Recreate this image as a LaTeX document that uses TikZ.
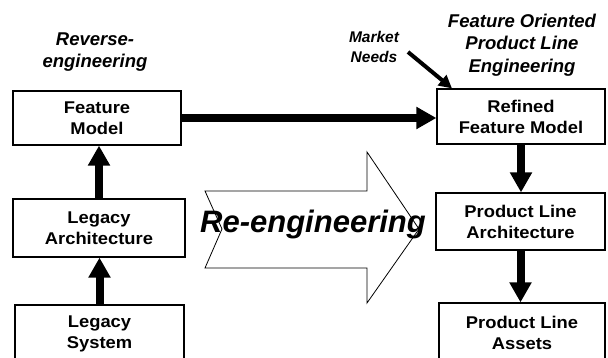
\documentclass[tikz,border=0pt]{standalone}
\usepackage{fontspec}
\setmainfont{Liberation Sans}
\newfontfamily\boxfont{Liberation Sans}[FakeStretch=1.08]
\usetikzlibrary{arrows.meta}
\begin{document}
\begin{tikzpicture}[x=1pt,y=-1pt,
  box/.style={draw, line width=1.2pt, rectangle, align=center, inner sep=0pt,
    font=\boxfont\bfseries\fontsize{17}{21}\selectfont},
  lbl/.style={align=center, inner sep=0pt, font=\bfseries\itshape\fontsize{18.5}{22.5}\selectfont},
  fat/.style={line width=8pt, -{Triangle[width=21pt,length=20pt]}},
  thin arrow/.style={line width=4pt, -{Triangle[width=13pt,length=13pt]}},
  bigarrow/.style={draw, line width=0.8pt, fill=white}
]
\useasboundingbox (0,0) rectangle (608,358);

% big hollow arrow
\draw[bigarrow] (205,191) -- (367,191) -- (367,152) -- (419,229) -- (367,303)
  -- (367,268) -- (205,268) -- (222,229) -- cycle;
\node[anchor=base, inner sep=0pt, font=\bfseries\itshape\fontsize{31}{31}\selectfont] (re) at (313,233) {Re-engineering};

% boxes
\node[box, minimum width=168pt, minimum height=54pt] (fm) at (97,118) {Feature\\Model};
\node[box, minimum width=172pt, minimum height=58pt] (la) at (99,228) {Legacy\\Architecture};
\node[box, minimum width=169pt, minimum height=57pt] (ls) at (99.5,333.5) {Legacy\\System};
\node[box, minimum width=168pt, minimum height=55pt] (rfm) at (521,116.5) {Refined\\Feature Model};
\node[box, minimum width=169pt, minimum height=57pt] (pla) at (520.5,221.5) {Product Line\\Architecture};
\node[box, minimum width=166pt, minimum height=59pt] (pa) at (522,332.5) {Product Line\\Assets};

% labels
\node[lbl] (rev) at (95,52) {Reverse-\\engineering};
\node[lbl] (fople) at (522,45) {Feature Oriented\\Product Line\\Engineering};
\node[lbl, font=\bfseries\itshape\fontsize{15.5}{20}\selectfont] (mn) at (374,47) {Market\\Needs};
\coordinate (mnstart) at (408,52);

% connectors
\draw[fat] (ls.north) -- (ls.north |- la.south);
\draw[fat] (la.north) -- (la.north |- fm.south);
\draw[fat] (fm.east) -- (fm.east -| rfm.west);
\draw[fat] (rfm.south) -- (rfm.south |- pla.north);
\draw[fat] (pla.south) -- (pla.south |- pa.north);
\draw[thin arrow] (mnstart) -- (rfm.north west -| 452,0);
\end{tikzpicture}
\end{document}
